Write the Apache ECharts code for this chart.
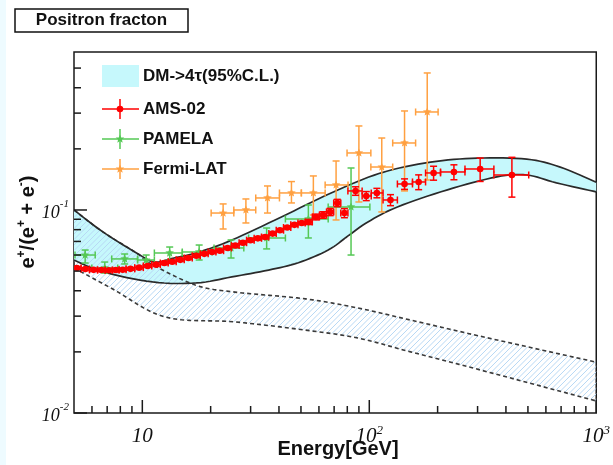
<!DOCTYPE html>
<html><head><meta charset="utf-8">
<script src="https://cdn.jsdelivr.net/npm/echarts@6/dist/echarts.min.js"></script>
<style>html,body{margin:0;padding:0;background:#fff}#c{width:613px;height:465px}</style>
</head><body><div id="c"></div>
<script>
// ---------------- data ----------------
const titleText = 'Positron fracton';
const xName = 'Energy[GeV]';
const legendNames = ['DM->4τ(95%C.L.)', 'AMS-02', 'PAMELA', 'Fermi-LAT'];

const xRange = [5, 1000];
const yRange = [0.01, 0.6];
const xMajorTicks = [10, 100, 1000];
const xTickLabels = ['10', '10^2', '10^3'];
const xMinorTicks = [6, 7, 8, 9, 20, 30, 40, 50, 60, 70, 80, 90, 200, 300, 400, 500, 600, 700, 800, 900];
const yMajorTicks = [0.01, 0.1];
const yTickLabels = ['10^-2', '10^-1'];
const yMinorTicks = [0.02, 0.03, 0.04, 0.05, 0.06, 0.07, 0.08, 0.09, 0.2, 0.3, 0.4, 0.5];

// DM -> 4tau band (signal + background), solid boundaries
const sigUpE = [5, 6.7, 9.43, 11.3, 13.8, 17.8, 24.8, 41, 67.9, 112, 186, 299, 494, 689, 1000];
const sigUpY = [0.1, 0.078, 0.0614, 0.0555, 0.058, 0.0621, 0.0711, 0.0924, 0.1213, 0.152, 0.172, 0.180, 0.178, 0.163, 0.137];
const sigLoE = [5, 6.7, 11.1, 17.3, 24.8, 36.0, 48.7, 65.9, 80.6, 98.6, 133, 221, 365, 494, 668, 1000];
const sigLoY = [0.0567, 0.0496, 0.0442, 0.0437, 0.0468, 0.0506, 0.055, 0.0635, 0.0745, 0.0873, 0.1035, 0.1257, 0.1456, 0.1487, 0.136, 0.1228];
// background band, dashed boundaries (hatched)
const bkgUpE = [5, 6.7, 9.43, 10.75, 17.1, 25.6, 52.3, 89.1, 152, 308, 1000];
const bkgUpY = [0.1, 0.078, 0.0614, 0.0548, 0.0427, 0.0394, 0.0365, 0.0329, 0.0287, 0.0239, 0.0178];
const bkgLoE = [5, 7.41, 12.6, 25.6, 52.3, 89.1, 152, 308, 1000];
const bkgLoY = [0.0518, 0.0408, 0.0297, 0.0281, 0.0256, 0.0234, 0.0200, 0.0163, 0.01146];

// AMS-02
const amsE = [5.15, 5.61, 6.10, 6.60, 7.12, 7.64, 8.19, 8.87, 9.68, 10.55, 11.5, 12.5, 13.55, 14.7, 15.95, 17.3, 18.75, 20.3, 21.95, 23.75, 25.7, 27.75, 29.95, 32.3, 34.8, 37.5, 40.4, 43.5, 46.8, 50.35, 54.15, 58.2, 62.55, 67.25, 72.3, 77.7, 87, 97, 108, 124, 143, 165, 192, 236, 308, 425];
const amsY = [0.0518, 0.0512, 0.0507, 0.0506, 0.0505, 0.0506, 0.0508, 0.0513, 0.0520, 0.0530, 0.0538, 0.0548, 0.0556, 0.0568, 0.0580, 0.0595, 0.0608, 0.0621, 0.0630, 0.0650, 0.0668, 0.0690, 0.0710, 0.0725, 0.0736, 0.0765, 0.0795, 0.0820, 0.0845, 0.0862, 0.0873, 0.0924, 0.0945, 0.0978, 0.1083, 0.0966, 0.1241, 0.1172, 0.1213, 0.1120, 0.1343, 0.1374, 0.1522, 0.1539, 0.1592, 0.1487];
const amsErr = [0.0008, 0.0008, 0.0008, 0.0008, 0.0008, 0.0008, 0.0008, 0.0008, 0.0008, 0.0008, 0.001, 0.001, 0.001, 0.001, 0.001, 0.001, 0.001, 0.001, 0.001, 0.001, 0.0014, 0.0014, 0.0014, 0.0014, 0.0014, 0.0014, 0.0014, 0.0014, 0.0014, 0.0014, 0.0025, 0.003, 0.0035, 0.004, 0.0045, 0.005, 0.006, 0.006, 0.0065, 0.007, 0.008, 0.0115, 0.012, 0.013, 0.021, 0.033];
const amsElo = [4.92, 5.37, 5.85, 6.35, 6.86, 7.38, 7.90, 8.48, 9.26, 10.1, 11.0, 12.0, 13.0, 14.1, 15.3, 16.6, 18.0, 19.5, 21.1, 22.8, 24.7, 26.7, 28.8, 31.1, 33.5, 36.1, 38.9, 41.9, 45.1, 48.5, 52.2, 56.1, 60.3, 64.8, 69.7, 74.9, 80.5, 93, 102, 115, 133, 155, 177, 206, 264, 354];
const amsEhi = [5.37, 5.85, 6.35, 6.86, 7.38, 7.90, 8.48, 9.26, 10.1, 11.0, 12.0, 13.0, 14.1, 15.3, 16.6, 18.0, 19.5, 21.1, 22.8, 24.7, 26.7, 28.8, 31.1, 33.5, 36.1, 38.9, 41.9, 45.1, 48.5, 52.2, 56.1, 60.3, 64.8, 69.7, 74.9, 80.5, 93, 102, 115, 133, 155, 177, 206, 264, 354, 504];

// PAMELA
const pamE = [5.6, 6.83, 8.36, 10.4, 13.2, 17.8, 24.6, 35.3, 53.9, 83.1];
const pamY = [0.0600, 0.0518, 0.0574, 0.0567, 0.0614, 0.0621, 0.0650, 0.0728, 0.0903, 0.1035];
const pamYlo = [0.0548, 0.0489, 0.0542, 0.0535, 0.0567, 0.0567, 0.0580, 0.0643, 0.0728, 0.0600];
const pamYhi = [0.0635, 0.0554, 0.0607, 0.0600, 0.0657, 0.0672, 0.0712, 0.0815, 0.1058, 0.161];
const pamElo = [5.05, 5.99, 7.33, 9.53, 11.3, 15.0, 20.7, 29.4, 42.7, 65.9];
const pamEhi = [6.2, 7.79, 9.53, 11.3, 15.0, 20.3, 28.0, 42.7, 65.9, 100.6];

// Fermi-LAT
const ferE = [22.7, 28.6, 35.6, 45.4, 56.7, 71.4, 90.0, 113.5, 143, 180];
const ferY = [0.0966, 0.1000, 0.1146, 0.1213, 0.1213, 0.1328, 0.1909, 0.1628, 0.2138, 0.3039];
const ferYlo = [0.0806, 0.0863, 0.0966, 0.1083, 0.0945, 0.0893, 0.1095, 0.0978, 0.1241, 0.1405];
const ferYhi = [0.1071, 0.1133, 0.1313, 0.1380, 0.1471, 0.1743, 0.2593, 0.2262, 0.3074, 0.473];
const ferElo = [20.1, 25.3, 31.6, 40.2, 50.2, 63.9, 79.8, 101.6, 126.8, 160];
const ferEhi = [25.3, 31.6, 40.2, 50.2, 63.9, 80.6, 101.6, 126.8, 160, 201];

// ---------------- styles ----------------
const C_AMS = '#ff0000', C_PAM = '#55c855', C_FER = '#ffa040', C_BAND = '#c6f8fc', C_HATCH = '#b8d9f5';

function smoothPts(pts, n) {
  n = n || 8;
  if (pts.length < 3) return pts;
  const out = [];
  for (let i = 0; i < pts.length - 1; i++) {
    const p0 = pts[Math.max(i - 1, 0)], p1 = pts[i], p2 = pts[i + 1], p3 = pts[Math.min(i + 2, pts.length - 1)];
    for (let k = 0; k < n; k++) {
      const t = k / n, t2 = t * t, t3 = t2 * t;
      const f = j => 0.5 * (2 * p1[j] + (-p0[j] + p2[j]) * t + (2 * p0[j] - 5 * p1[j] + 4 * p2[j] - p3[j]) * t2 + (-p0[j] + 3 * p1[j] - 3 * p2[j] + p3[j]) * t3);
      out.push([f(0), f(1)]);
    }
  }
  out.push(pts[pts.length - 1]);
  return out;
}

// diagonal "/" hatch segments inside a pixel-space polygon
function hatchSegs(poly, step) {
  let minC = Infinity, maxC = -Infinity;
  poly.forEach(p => { const c = p[0] + p[1]; if (c < minC) minC = c; if (c > maxC) maxC = c; });
  const segs = [];
  for (let c = Math.ceil(minC / step) * step; c <= maxC; c += step) {
    const xs = [];
    for (let i = 0; i < poly.length; i++) {
      const A = poly[i], B = poly[(i + 1) % poly.length];
      const fa = A[0] + A[1] - c, fb = B[0] + B[1] - c;
      if ((fa < 0) !== (fb < 0)) {
        const s = fa / (fa - fb);
        xs.push(A[0] + s * (B[0] - A[0]));
      }
    }
    xs.sort((a, b) => a - b);
    for (let k = 0; k + 1 < xs.length; k += 2) segs.push([xs[k], c - xs[k], xs[k + 1], c - xs[k + 1]]);
  }
  return segs;
}

function starPts(cx, cy, R, r) {
  const p = [];
  for (let i = 0; i < 10; i++) {
    const a = -Math.PI / 2 + i * Math.PI / 5;
    const rr = i % 2 ? r : R;
    p.push([cx + rr * Math.cos(a), cy + rr * Math.sin(a)]);
  }
  return p;
}

function errSeries(name, E, Y, Ylo, Yhi, Elo, Ehi, color, marker, z) {
  const data = E.map((e, i) => [e, Y[i], Ylo[i], Yhi[i], Elo[i], Ehi[i]]);
  return {
    name: name, type: 'custom', coordinateSystem: 'cartesian2d', clip: true, z: z, silent: true,
    encode: { x: 0, y: 1 },
    data: data,
    renderItem: function (params, api) {
      const c = api.coord([api.value(0), api.value(1)]);
      const l = api.coord([api.value(4), api.value(1)]);
      const r = api.coord([api.value(5), api.value(1)]);
      const t = api.coord([api.value(0), api.value(3)]);
      const b = api.coord([api.value(0), api.value(2)]);
      const cap = 3.5;
      const st = { stroke: color, lineWidth: 1.5 };
      const ch = [
        { type: 'line', shape: { x1: l[0], y1: c[1], x2: r[0], y2: c[1] }, style: st },
        { type: 'line', shape: { x1: c[0], y1: t[1], x2: c[0], y2: b[1] }, style: st },
        { type: 'line', shape: { x1: l[0], y1: c[1] - cap, x2: l[0], y2: c[1] + cap }, style: st },
        { type: 'line', shape: { x1: r[0], y1: c[1] - cap, x2: r[0], y2: c[1] + cap }, style: st },
        { type: 'line', shape: { x1: c[0] - cap, y1: t[1], x2: c[0] + cap, y2: t[1] }, style: st },
        { type: 'line', shape: { x1: c[0] - cap, y1: b[1], x2: c[0] + cap, y2: b[1] }, style: st }
      ];
      if (marker === 'circle') ch.push({ type: 'circle', shape: { cx: c[0], cy: c[1], r: 3.3 }, style: { fill: color } });
      else ch.push({ type: 'polygon', shape: { points: starPts(c[0], c[1], 4.5, 2 ) }, style: { fill: color } });
      return { type: 'group', children: ch };
    }
  };
}

function rich(label) {
  const p = label.split('^');
  return p.length > 1 ? '{b|' + p[0] + '}{s|' + p[1] + '}' : '{b|' + p[0] + '}';
}
function labelFor(v, ticks, labels) {
  for (let i = 0; i < ticks.length; i++) {
    if (Math.abs(Math.log10(ticks[i]) - Math.log10(v)) < 1e-6) return rich(labels[i]);
  }
  return '';
}

const chart = echarts.init(document.getElementById('c'), null, { renderer: 'canvas' });

const serifI = { fontFamily: 'Liberation Serif', fontStyle: 'italic', color: '#111' };

const option = {
  animation: false,
  backgroundColor: '#ffffff',
  grid: { left: 74, right: 12, top: 52, bottom: 52, show: true, borderColor: '#1a1a1a', borderWidth: 1.5, backgroundColor: 'transparent' },
  xAxis: {
    type: 'log', logBase: 10, min: xRange[0], max: xRange[1],
    axisLine: { show: false }, axisTick: { show: false }, splitLine: { show: false }, minorTick: { show: false },
    axisLabel: {
      margin: 11, showMaxLabel: true, showMinLabel: true,
      formatter: v => labelFor(v, xMajorTicks, xTickLabels),
      rich: {
        b: Object.assign({ fontSize: 21, lineHeight: 24 }, serifI),
        s: Object.assign({ fontSize: 13, lineHeight: 13, verticalAlign: 'top' }, serifI)
      }
    }
  },
  yAxis: {
    type: 'log', logBase: 10, min: yRange[0], max: yRange[1],
    axisLine: { show: false }, axisTick: { show: false }, splitLine: { show: false }, minorTick: { show: false },
    axisLabel: {
      margin: 5, showMaxLabel: true, showMinLabel: true,
      formatter: v => labelFor(v, yMajorTicks, yTickLabels),
      rich: {
        b: Object.assign({ fontSize: 18, lineHeight: 22, padding: [6, 0, 0, 0] }, serifI),
        s: Object.assign({ fontSize: 11, lineHeight: 11, verticalAlign: 'top' }, serifI)
      }
    }
  },
  graphic: [
    { type: 'rect', left: 0, top: 0, shape: { width: 6, height: 465 }, style: { fill: '#eefbff' }, z: -1 },
    { type: 'rect', x: 15, y: 9, shape: { width: 173, height: 23 }, style: { fill: '#fff', stroke: '#111', lineWidth: 1.5 } },
    { type: 'text', x: 101.5, y: 20.5, style: { text: titleText, fontSize: 17, fontWeight: 'bold', fontFamily: 'Liberation Sans', fill: '#111', align: 'center', verticalAlign: 'middle' } },
    { type: 'text', x: 338, y: 449, style: { text: xName, fontSize: 20, fontWeight: 'bold', fontFamily: 'Liberation Sans', fill: '#111', align: 'center', verticalAlign: 'middle' } },
    { type: 'text', x: 28, y: 222, rotation: Math.PI / 2,
      style: { text: '{n|e}{s|+}{n|/(e}{s|+}{n| + e}{s|-}{n|)}', align: 'center', verticalAlign: 'middle', fill: '#111',
        rich: { n: { fontSize: 20, fontWeight: 'bold', fontFamily: 'Liberation Sans', lineHeight: 24, fill: '#111' },
                s: { fontSize: 12, fontWeight: 'bold', fontFamily: 'Liberation Sans', lineHeight: 12, verticalAlign: 'top', fill: '#111' } } } },
    // legend
    { type: 'rect', x: 102, y: 65, shape: { width: 37, height: 22 }, style: { fill: C_BAND } },
    { type: 'text', x: 143, y: 76, style: { text: legendNames[0], fontSize: 17, fontWeight: 'bold', fontFamily: 'Liberation Sans', fill: '#111', verticalAlign: 'middle' } },
    ...[[legendNames[1], C_AMS, 109, 'circle'], [legendNames[2], C_PAM, 139, 'star'], [legendNames[3], C_FER, 169, 'star']].flatMap(it => [
      { type: 'line', shape: { x1: 102, y1: it[2], x2: 139, y2: it[2] }, style: { stroke: it[1], lineWidth: 1.5 } },
      { type: 'line', shape: { x1: 120, y1: it[2] - 10, x2: 120, y2: it[2] + 10 }, style: { stroke: it[1], lineWidth: 1.5 } },
      it[3] === 'circle'
        ? { type: 'circle', shape: { cx: 120, cy: it[2], r: 3.3 }, style: { fill: it[1] } }
        : { type: 'polygon', shape: { points: starPts(120, it[2], 4.5, 2) }, style: { fill: it[1] } },
      { type: 'text', x: 143, y: it[2], style: { text: it[0], fontSize: 17, fontWeight: 'bold', fontFamily: 'Liberation Sans', fill: '#111', verticalAlign: 'middle' } }
    ])
  ],
  series: [
    {
      name: 'bands', type: 'custom', coordinateSystem: 'cartesian2d', clip: true, z: 1, silent: true,
      data: [[xRange[0], yRange[0]]],
      renderItem: function (params, api) {
        const P = (E, Y) => smoothPts(E.map((e, i) => api.coord([e, Y[i]])));
        const su = P(sigUpE, sigUpY), sl = P(sigLoE, sigLoY);
        const bu = P(bkgUpE, bkgUpY), bl = P(bkgLoE, bkgLoY);
        const hatchLines = hatchSegs(bu.concat(bl.slice().reverse()), 5.5).map(s => ({
          type: 'line', shape: { x1: s[0], y1: s[1], x2: s[2], y2: s[3] }, style: { stroke: C_HATCH, lineWidth: 1 }
        }));
        return { type: 'group', children: [
          { type: 'polygon', shape: { points: su.concat(sl.slice().reverse()) }, style: { fill: C_BAND } }
        ].concat(hatchLines).concat([
          { type: 'polyline', shape: { points: bu }, style: { stroke: '#3a3a3a', lineWidth: 1.6, lineDash: [4, 3], fill: null } },
          { type: 'polyline', shape: { points: bl }, style: { stroke: '#3a3a3a', lineWidth: 1.6, lineDash: [4, 3], fill: null } },
          { type: 'polyline', shape: { points: su }, style: { stroke: '#2a2a2a', lineWidth: 1.7, fill: null } },
          { type: 'polyline', shape: { points: sl }, style: { stroke: '#2a2a2a', lineWidth: 1.7, fill: null } }
        ]) };
      }
    },
    errSeries('Fermi-LAT', ferE, ferY, ferYlo, ferYhi, ferElo, ferEhi, C_FER, 'star', 3),
    errSeries('PAMELA', pamE, pamY, pamYlo, pamYhi, pamElo, pamEhi, C_PAM, 'star', 4),
    errSeries('AMS-02', amsE, amsY, amsY.map((y, i) => y - amsErr[i]), amsY.map((y, i) => y + amsErr[i]), amsElo, amsEhi, C_AMS, 'circle', 5),
    {
      name: 'xticks', type: 'custom', coordinateSystem: 'cartesian2d', z: 6, silent: true,
      data: xMajorTicks.map(v => [v, 1]).concat(xMinorTicks.map(v => [v, 0])),
      renderItem: function (params, api) {
        const p = api.coord([api.value(0), yRange[0]]);
        const len = api.value(1) ? 13 : 7;
        return { type: 'line', shape: { x1: p[0], y1: p[1], x2: p[0], y2: p[1] - len }, style: { stroke: '#1a1a1a', lineWidth: 1.5 } };
      }
    },
    {
      name: 'yticks', type: 'custom', coordinateSystem: 'cartesian2d', z: 6, silent: true,
      data: yMajorTicks.map(v => [xRange[0], v, 1]).concat(yMinorTicks.map(v => [xRange[0], v, 0])),
      renderItem: function (params, api) {
        const p = api.coord([xRange[0], api.value(1)]);
        const len = api.value(2) ? 13 : 7;
        return { type: 'line', shape: { x1: p[0], y1: p[1], x2: p[0] + len, y2: p[1] }, style: { stroke: '#1a1a1a', lineWidth: 1.5 } };
      }
    }
  ]
};
chart.setOption(option);
</script></body></html>
